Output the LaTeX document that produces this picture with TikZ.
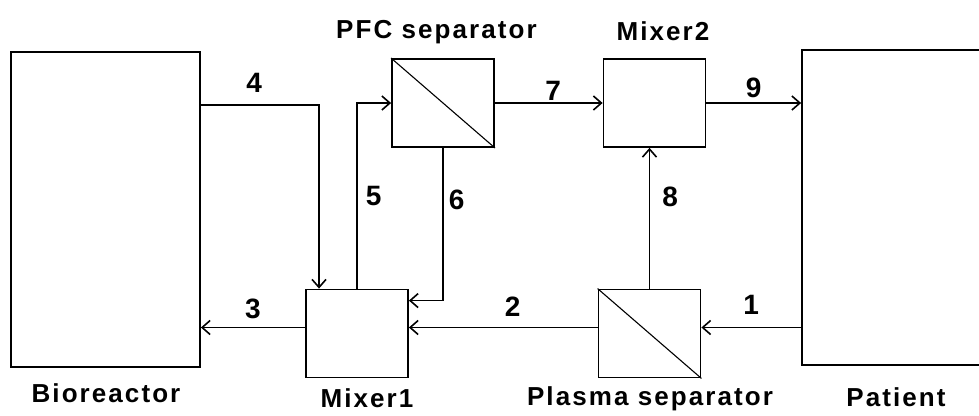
\documentclass[tikz,border=0pt]{standalone}
\usepackage{fontspec}
\setmainfont{Liberation Sans}
\newfontfamily\spacedfont[LetterSpace=8]{Liberation Sans}
\usetikzlibrary{arrows.meta, calc}

\begin{document}
\begin{tikzpicture}[x=1pt, y=-1pt, >={Straight Barb[length=8pt, width=14pt]}, line width=1.6pt,
  every node/.style={font=\fontsize{26}{28}\selectfont\bfseries},
  tank/.style={draw, line width=1.8pt, minimum width=189pt, minimum height=315pt, inner sep=0pt},
  unit/.style={draw, line width=1.8pt, minimum width=102pt, minimum height=88pt, inner sep=0pt},
  membrane/.style={line width=1.1pt},
  num/.style={inner sep=0pt, anchor=base, font=\fontsize{28}{30}\selectfont\bfseries},
  title/.style={inner sep=0pt, anchor=base, font=\spacedfont\fontsize{26}{28}\selectfont\bfseries}]
  \clip (0,0) rectangle (979,415);
  % tanks and units
  \node[tank] (bioreactor) at (105.5,209.5) {};
  \node[tank, minimum width=300pt] (patient) at (952,207.5) {};
  \node[unit] (pfc) at (443,103) {};
  \node[unit] (mixer2) at (654.5,103) {};
  \node[unit] (mixer1) at (357,333.5) {};
  \node[unit] (plasma) at (649.5,333.5) {};
  \draw[membrane] (pfc.north west) -- (pfc.south east);
  \draw[membrane] (plasma.north west) -- (plasma.south east);
  % titles
  \node[title] (pfctitle) at (436.5,38) {PFC separator};
  \node[title] (mixer2title) at (663,40) {Mixer2};
  \node[title] (biotitle) at (106,402) {Bioreactor};
  \node[title] (mixer1title) at (367,407) {Mixer1};
  \node[title] (plasmatitle) at (650,405) {Plasma separator};
  \node[title] (patienttitle) at (896,406) {Patient};
  % streams
  \coordinate (bend4) at (319,105);
  \draw[->] (bioreactor.east |- bend4) -- (bend4) node[num, pos=0.45, above=12pt] {4} -- (bend4 |- mixer1.north);
  \draw[->] (mixer1.north) |- (pfc.west) node[num, pos=0.25, right=8pt] {5};
  \draw[->] (pfc.south) |- ($(mixer1.north east)+(0,12)$) node[num, pos=0.17, right=5pt] {6};
  \draw[->] (pfc.east) -- (mixer2.west) node[num, pos=0.54, above=2pt] {7};
  \draw[->] (mixer2.east) -- (mixer2.east -| patient.west) node[num, midway, above=4pt] {9};
  \draw[->] (plasma.north) -- (plasma.north |- mixer2.south) node[num, pos=0.65, right=12pt] {8};
  \draw[->] ([yshift=6pt]plasma.west) -- ([yshift=6pt]plasma.west -| mixer1.east) node[num, pos=0.45, above=10pt] {2};
  \draw[->] ([yshift=6pt]mixer1.west) -- ([yshift=6pt]mixer1.west -| bioreactor.east) node[num, midway, above=8pt] {3};
  \draw[->] ([yshift=6pt]plasma.east -| patient.west) -- ([yshift=6pt]plasma.east) node[num, midway, above=12pt] {1};
\end{tikzpicture}
\end{document}
